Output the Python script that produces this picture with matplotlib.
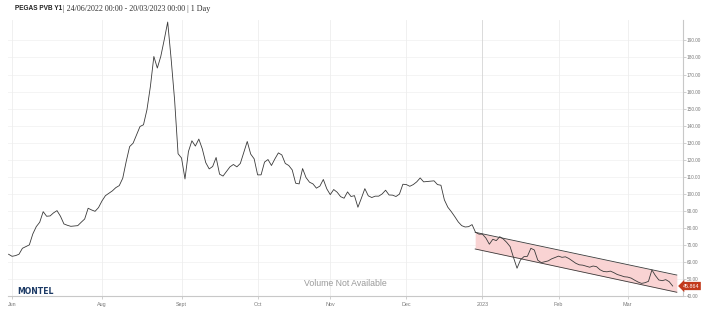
import numpy as np
import pandas as pd
import matplotlib
matplotlib.use("Agg")
from matplotlib import pyplot as plt

# daily settlement, PEGAS PVB Y1 (EUR/MWh), business days 23/06/2022 .. 20/03/2023
dates = pd.bdate_range("2022-06-23", "2023-03-20")
prices = [
    64.5, 63.3, 63.7, 64.5, 68.0, 69.0, 70.0, 76.4, 80.7, 83.3,
    89.5, 86.8, 87.0, 88.8, 90.1, 86.8, 82.3, 81.5, 80.9, 81.1,
    81.3, 83.3, 85.2, 91.5, 90.5, 89.7, 91.9, 95.8, 98.9, 100.3,
    101.7, 103.6, 104.8, 109.1, 118.9, 127.7, 129.7, 134.6, 139.5, 140.5,
    149.3, 163.0, 180.6, 173.8, 180.6, 190.4, 200.8, 179.0, 155.0, 123.5,
    121.0, 108.7, 124.8, 131.1, 128.0, 132.1, 126.4, 118.3, 114.6, 116.0,
    121.3, 111.5, 110.4, 113.1, 115.8, 117.2, 115.8, 117.8, 124.2, 130.7,
    123.3, 120.5, 111.1, 111.1, 118.6, 120.1, 116.6, 120.5, 124.0, 122.8,
    117.8, 116.6, 114.0, 106.2, 105.8, 114.8, 109.5, 106.8, 105.8, 103.3,
    104.5, 108.4, 102.9, 99.5, 102.5, 100.9, 98.3, 97.4, 101.1, 98.4,
    98.9, 92.1, 97.4, 103.0, 98.8, 97.8, 98.6, 98.6, 99.9, 102.1,
    99.3, 99.2, 98.4, 99.8, 105.6, 105.4, 104.4, 105.4, 107.0, 109.3,
    107.0, 107.2, 107.4, 107.6, 105.4, 105.0, 96.4, 92.1, 89.5, 86.6,
    83.5, 81.3, 80.5, 80.7, 81.9, 77.4, 76.3, 76.3, 74.0, 70.4,
    73.3, 72.5, 74.8, 73.5, 71.5, 69.0, 62.5, 56.3, 61.2, 63.1,
    63.3, 68.0, 67.0, 61.0, 59.6, 60.1, 60.6, 61.8, 62.6, 63.4,
    62.7, 63.0, 62.0, 60.6, 59.2, 58.3, 58.1, 57.5, 56.9, 57.6,
    57.2, 55.4, 54.4, 54.2, 54.6, 53.7, 52.6, 52.0, 51.3, 51.1,
    50.5, 49.3, 48.2, 47.4, 47.8, 48.6, 55.3, 52.0, 49.4, 49.0,
    49.6, 48.4, 45.864,
]

# hand drawn downtrend channel (x in bar index)
channel_x = [134.9, 193.2]
channel_upper = [77.4, 52.3]
channel_lower = [67.6, 42.2]

tick_dates = ["2022-06-24", "2022-08-01", "2022-09-01", "2022-10-03", "2022-11-01",
              "2022-12-01", "2023-01-02", "2023-02-01", "2023-03-01"]
tick_labels = ["Jun", "Aug", "Sept", "Oct", "Nov", "Dec", "2023", "Feb", "Mar"]
y_ticks = list(range(40, 200, 10))

W, H = 715, 323
fig = plt.figure(figsize=(W / 100, H / 100), dpi=100)
ax = fig.add_axes([8 / W, 1 - 296 / H, (682.7 - 8) / W, (296 - 20) / H])

x = np.arange(len(dates))
tick_pos = dates.searchsorted(pd.to_datetime(tick_dates))

# grid
for v in y_ticks:
    ax.axhline(v, color="#f2f2f2", lw=0.6, zorder=0)
for p, lab in zip(tick_pos, tick_labels):
    ax.axvline(p, color="#d4d4d4" if lab == "2023" else "#eeeeee", lw=0.6, zorder=0)

ax.fill_between(channel_x, channel_lower, channel_upper, color="#f9d3d3", lw=0, zorder=1)
ax.plot(channel_x, channel_upper, color="#3a3a3a", lw=0.6, zorder=2)
ax.plot(channel_x, channel_lower, color="#3a3a3a", lw=0.6, zorder=2)

ax.plot(x, prices, color="#3a3a3a", lw=0.6, zorder=3)

ax.set_xlim(-0.17, 194.9)
ax.set_ylim(40, 202)

ax.yaxis.tick_right()
ax.set_yticks(y_ticks)
ax.set_yticklabels([f"{v:.2f}" for v in y_ticks])
ax.set_xticks(tick_pos)
ax.set_xticklabels(tick_labels)
ax.tick_params(axis="y", length=2, width=0.6, color="#c8c8c8", labelsize=3.4,
               labelcolor="#7a7a7a", pad=1)
ax.tick_params(axis="x", length=2, width=0.6, color="#c8c8c8", labelsize=3.9,
               labelcolor="#7a7a7a", pad=2)
for lbl in ax.get_xticklabels() + ax.get_yticklabels():
    lbl.set_fontfamily("Liberation Sans")

for s in ["left", "top"]:
    ax.spines[s].set_visible(False)
for s in ["right", "bottom"]:
    ax.spines[s].set_color("#c8c8c8")
    ax.spines[s].set_linewidth(0.8)

# last price tag
ax.text(1.0, prices[-1], f"{prices[-1]:.3f}", transform=ax.get_yaxis_transform(),
        ha="left", va="center", fontsize=3.9, color="white", family="Liberation Sans",
        bbox=dict(boxstyle="larrow,pad=0.3", fc="#c23a1c", ec="none"), zorder=5,
        clip_on=False)

ax.text(0.5, 0.045, "Volume Not Available", transform=ax.transAxes, ha="center",
        va="center", fontsize=6.3, color="#9a9a9a", family="Liberation Sans")
fig.text(17 / W, 1 - 291 / H, "MONTEL", fontsize=5.6, fontweight="bold", color="#1d3b66",
         family="DejaVu Sans", va="center", ha="left")

fig.text(15 / W, 1 - 9 / H, "PEGAS PVB Y1", fontsize=4.7, fontweight="bold",
         family="Liberation Sans", va="center", ha="left", color="#222")
fig.text(63 / W, 1 - 9 / H, "| 24/06/2022 00:00 - 20/03/2023 00:00 | 1 Day", fontsize=5.8,
         family="Liberation Serif", va="center", ha="left", color="#333")

fig.savefig("out.png", dpi=100)
